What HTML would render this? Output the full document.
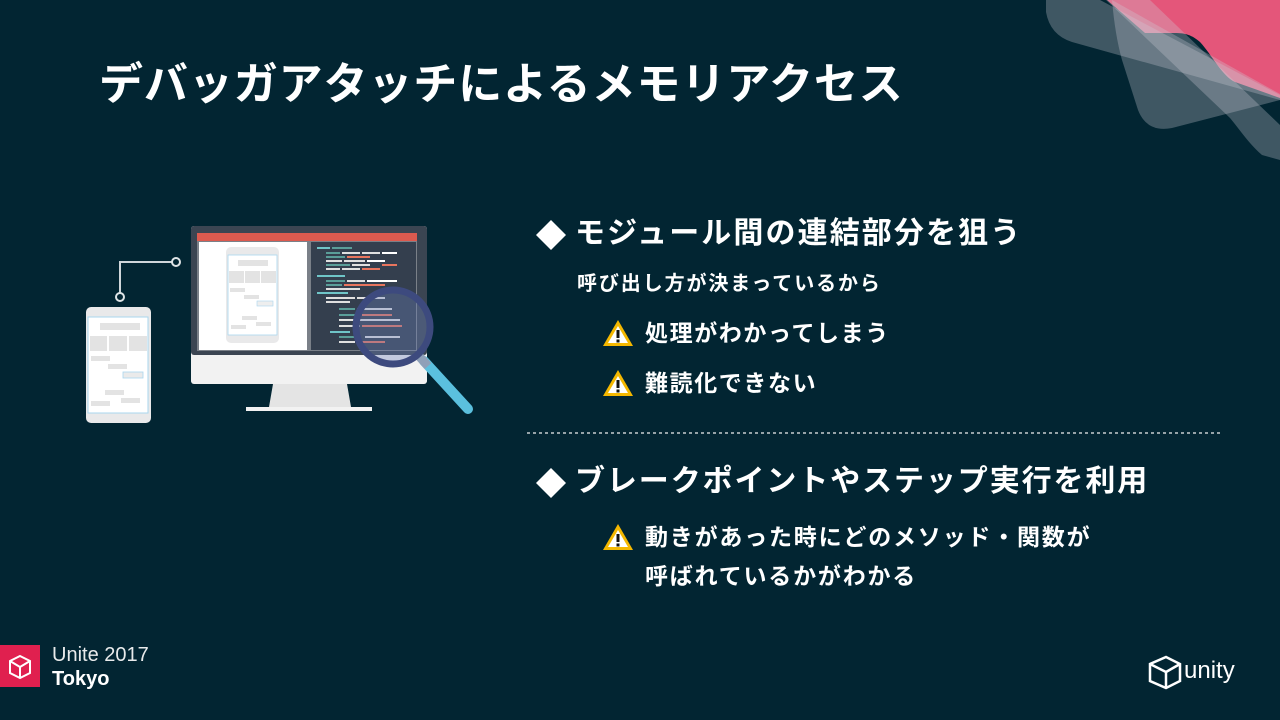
<!DOCTYPE html>
<html><head><meta charset="utf-8"><style>
html,body{margin:0;padding:0}
body{width:1280px;height:720px;background:#022532;position:relative;overflow:hidden;font-family:"Liberation Sans","Noto Sans CJK JP",sans-serif;color:#fff}
.t{position:absolute;white-space:nowrap;font-weight:bold;line-height:1}
</style></head><body>
<svg width="1280" height="720" style="position:absolute;left:0;top:0">
<!-- corner -->
<path d="M1107,0 L1280,0 L1280,98 L1235,82 C1222,76 1212,55 1200,42 C1192,35 1185,33 1175,33 L1145,33 Z" fill="#e4567a"/>
<path d="M1046,0 L1100,0 L1280,95 L1280,100 L1072,42 Q1050,35 1046,12 Z" fill="rgba(205,205,215,0.3)"/>
<path d="M1112,0 L1280,94 L1280,100 L1172,128 Q1147,133 1138,110 L1122,60 Q1115,35 1112,0 Z" fill="rgba(205,205,215,0.3)"/>
<path d="M1106,0 L1150,0 L1280,125 L1280,160 L1262,155 C1250,145 1240,130 1230,118 Z" fill="rgba(205,205,215,0.3)"/>
<!-- connector -->
<polyline points="172,262 120,262 120,293" fill="none" stroke="#cfd6da" stroke-width="2"/>
<circle cx="176" cy="262" r="4" fill="#022532" stroke="#dfe4e6" stroke-width="2"/>
<circle cx="120" cy="297" r="4" fill="#022532" stroke="#dfe4e6" stroke-width="2"/>
<!-- left phone -->
<rect x="86" y="307" width="65" height="116" rx="5" fill="#e9e9ea"/>
<rect x="88" y="317" width="60" height="96" fill="#fff" stroke="#a9d6ee" stroke-width="1"/>
<rect x="100" y="323" width="40" height="7" fill="#e3e3e3"/>
<rect x="90" y="336" width="17" height="15" fill="#e3e3e3"/><rect x="109" y="336" width="18" height="15" fill="#e3e3e3"/><rect x="129" y="336" width="18" height="15" fill="#e3e3e3"/>
<rect x="91" y="356" width="19" height="5" fill="#e3e3e3"/><rect x="108" y="364" width="19" height="5" fill="#e3e3e3"/>
<rect x="123" y="372" width="20" height="6" fill="#eaeaea" stroke="#a9d6ee" stroke-width="0.8"/>
<rect x="105" y="390" width="19" height="5" fill="#e3e3e3"/><rect x="91" y="401" width="19" height="5" fill="#e3e3e3"/><rect x="121" y="398" width="19" height="5" fill="#e3e3e3"/>
<!-- monitor -->
<rect x="191" y="226" width="236" height="158" rx="3" fill="#f2f2f2"/>
<rect x="191" y="226" width="236" height="129" rx="3" fill="#3b4552"/>
<rect x="197" y="233" width="220" height="118" fill="#7a8088"/>
<rect x="197" y="233" width="220" height="8" fill="#dc5a4f"/>
<rect x="199" y="242" width="108" height="108" fill="#fff"/>
<rect x="311" y="242" width="105" height="108" fill="#343f4e"/>
<rect x="226" y="247" width="53" height="96" rx="5" fill="#e9e9ea"/>
<rect x="228" y="255" width="49" height="80" fill="#fff" stroke="#a9d6ee" stroke-width="0.8"/>
<rect x="238" y="260" width="30" height="6" fill="#e3e3e3"/>
<rect x="229" y="271" width="15" height="12" fill="#e3e3e3"/><rect x="245" y="271" width="15" height="12" fill="#e3e3e3"/><rect x="261" y="271" width="15" height="12" fill="#e3e3e3"/>
<rect x="230" y="288" width="15" height="4" fill="#e3e3e3"/><rect x="244" y="295" width="15" height="4" fill="#e3e3e3"/>
<rect x="257" y="301" width="16" height="5" fill="#eee" stroke="#a9d6ee" stroke-width="0.6"/>
<rect x="242" y="316" width="15" height="4" fill="#e3e3e3"/><rect x="231" y="325" width="15" height="4" fill="#e3e3e3"/><rect x="256" y="322" width="15" height="4" fill="#e3e3e3"/>
<g stroke-width="2">
<line x1="317" y1="248" x2="330" y2="248" stroke="#6fc5c8"/><line x1="332" y1="248" x2="352" y2="248" stroke="#5a9e99"/>
<line x1="326" y1="253" x2="340" y2="253" stroke="#5a9e99"/><line x1="342" y1="253" x2="360" y2="253" stroke="#e0e0e0"/><line x1="362" y1="253" x2="380" y2="253" stroke="#e0e0e0"/>
<line x1="326" y1="257" x2="345" y2="257" stroke="#5a9e99"/><line x1="347" y1="257" x2="370" y2="257" stroke="#e8755e"/><line x1="382" y1="253" x2="397" y2="253" stroke="#fff"/>
<line x1="326" y1="261" x2="342" y2="261" stroke="#e0e0e0"/><line x1="344" y1="261" x2="365" y2="261" stroke="#e0e0e0"/><line x1="367" y1="261" x2="385" y2="261" stroke="#fff"/>
<line x1="326" y1="265" x2="350" y2="265" stroke="#5a9e99"/><line x1="352" y1="265" x2="370" y2="265" stroke="#e0e0e0"/><line x1="382" y1="265" x2="397" y2="265" stroke="#e8755e"/>
<line x1="326" y1="269" x2="340" y2="269" stroke="#e0e0e0"/><line x1="342" y1="269" x2="360" y2="269" stroke="#e0e0e0"/><line x1="362" y1="269" x2="380" y2="269" stroke="#e8755e"/>
<line x1="317" y1="276" x2="345" y2="276" stroke="#6fc5c8"/>
<line x1="326" y1="281" x2="345" y2="281" stroke="#5a9e99"/><line x1="347" y1="281" x2="365" y2="281" stroke="#e0e0e0"/><line x1="367" y1="281" x2="397" y2="281" stroke="#fff"/>
<line x1="326" y1="285" x2="342" y2="285" stroke="#5a9e99"/><line x1="344" y1="285" x2="385" y2="285" stroke="#e8755e"/>
<line x1="326" y1="289" x2="360" y2="289" stroke="#e0e0e0"/>
<line x1="317" y1="293" x2="348" y2="293" stroke="#6fc5c8"/>
<line x1="326" y1="298" x2="355" y2="298" stroke="#e0e0e0"/><line x1="357" y1="298" x2="385" y2="298" stroke="#e0e0e0"/>
<line x1="326" y1="302" x2="350" y2="302" stroke="#e0e0e0"/>
<line x1="339" y1="309" x2="355" y2="309" stroke="#5a9e99"/><line x1="357" y1="309" x2="392" y2="309" stroke="#e0e0e0"/>
<line x1="339" y1="315" x2="358" y2="315" stroke="#5a9e99"/><line x1="362" y1="315" x2="392" y2="315" stroke="#e8755e"/>
<line x1="339" y1="320" x2="355" y2="320" stroke="#e0e0e0"/><line x1="360" y1="320" x2="400" y2="320" stroke="#e0e0e0"/>
<line x1="339" y1="326" x2="360" y2="326" stroke="#e0e0e0"/><line x1="362" y1="326" x2="402" y2="326" stroke="#e8755e"/>
<line x1="330" y1="332" x2="350" y2="332" stroke="#6fc5c8"/>
<line x1="339" y1="337" x2="360" y2="337" stroke="#5a9e99"/><line x1="365" y1="337" x2="400" y2="337" stroke="#e0e0e0"/>
<line x1="339" y1="342" x2="355" y2="342" stroke="#e0e0e0"/><line x1="360" y1="342" x2="385" y2="342" stroke="#e8755e"/>
</g>
<polygon points="273,384 347,384 351,407 269,407" fill="#e4e4e4"/>
<rect x="246" y="407" width="126" height="4" fill="#f2f2f2"/>
<!-- magnifier -->
<circle cx="393" cy="327" r="36" fill="rgba(110,130,190,0.35)"/>
<line x1="424" y1="361" x2="468" y2="409" stroke="#5bc0de" stroke-width="10" stroke-linecap="round"/>
<line x1="418" y1="355" x2="428" y2="366" stroke="#8fa0b8" stroke-width="9"/>
<circle cx="393" cy="327" r="37" fill="none" stroke="#3d4a7e" stroke-width="7"/>
<!-- diamonds -->
<polygon points="551,220 566,235 551,250 536,235" fill="#fff"/>
<polygon points="551,468 566,483 551,498 536,483" fill="#fff"/>
<line x1="527" y1="433" x2="1220" y2="433" stroke="#c8cdd0" stroke-width="1.5" stroke-dasharray="3,3"/>
<!-- warnings -->
<g id="w">
<polygon points="618,320 633,346 603,346" fill="#f5b800"/><polygon points="618,326 628,343 608,343" fill="#fff"/>
<rect x="616.5" y="330" width="3" height="8" fill="#111"/><rect x="616.5" y="339.5" width="3" height="3" fill="#111"/>
</g>
<use href="#w" y="50"/><use href="#w" y="204"/>
<!-- bottom logos -->
<rect x="0" y="645" width="40" height="42" fill="#e0204f"/>
<g fill="none" stroke="#fff" stroke-width="2">
<polygon points="20,656 30,661 30,673 20,678 10,673 10,661"/><line x1="20" y1="667" x2="20" y2="678"/><line x1="20" y1="667" x2="30" y2="661"/><line x1="20" y1="667" x2="10" y2="661"/>
<polygon points="1166,657 1180,664 1180,681 1166,688 1150,681 1150,664" stroke-width="2.5"/><line x1="1166" y1="672" x2="1166" y2="688" stroke-width="2.5"/><line x1="1166" y1="672" x2="1180" y2="664" stroke-width="2.5"/><line x1="1166" y1="672" x2="1150" y2="664" stroke-width="2.5"/>
</g>
</svg>
<div class="t" style="left:99px;top:63px;font-size:44px;letter-spacing:0.9px">デバッガアタッチによるメモリアクセス</div>
<div class="t" style="left:575px;top:219px;font-size:30px;letter-spacing:2.1px">モジュール間の連結部分を狙う</div>
<div class="t" style="left:577px;top:274px;font-size:20px;letter-spacing:1.9px">呼び出し方が決まっているから</div>
<div class="t" style="left:645px;top:322px;font-size:23px;letter-spacing:1.6px">処理がわかってしまう</div>
<div class="t" style="left:645px;top:372px;font-size:23px;letter-spacing:1.6px">難読化できない</div>
<div class="t" style="left:575px;top:467px;font-size:30px;letter-spacing:1.9px">ブレークポイントやステップ実行を利用</div>
<div class="t" style="left:645px;top:526px;font-size:23px;letter-spacing:1.8px">動きがあった時にどのメソッド・関数が</div>
<div class="t" style="left:645px;top:565px;font-size:23px;letter-spacing:1.8px">呼ばれているかがわかる</div>
<div class="t" style="left:52px;top:645px;font-size:20px;font-weight:normal;color:#e8eaeb">Unite 2017</div>
<div class="t" style="left:52px;top:669px;font-size:20px">Tokyo</div>
<div class="t" style="left:1184px;top:659px;font-size:24px;font-weight:normal">unity</div>
</body></html>
